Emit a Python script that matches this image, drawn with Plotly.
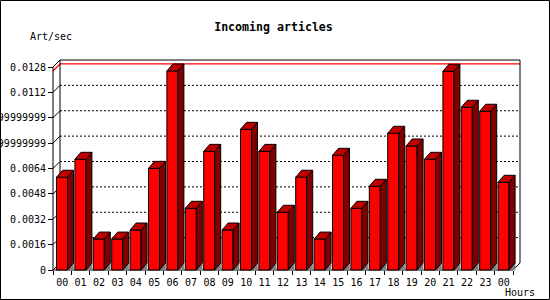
import plotly.graph_objects as go

# ---- data ----
hours = ["00", "01", "02", "03", "04", "05", "06", "07", "08", "09", "10", "11",
         "12", "13", "14", "15", "16", "17", "18", "19", "20", "21", "22", "23", "00"]
art_per_sec = [0.00585, 0.00698, 0.00195, 0.00195, 0.00252, 0.00641, 0.01255, 0.00389,
               0.00748, 0.00252, 0.00887, 0.00748, 0.00364, 0.00585, 0.00195, 0.00723,
               0.00389, 0.00528, 0.00862, 0.00782, 0.00698, 0.01253, 0.01026, 0.01001,
               0.00553]
y_tick_vals = [0, 0.0016, 0.0032, 0.0048, 0.0064, 0.008, 0.0096, 0.0112, 0.0128]
y_tick_text = ["0", "0.0016", "0.0032", "0.0048", "0.0064", "0.00799999999999999",
               "0.00959999999999999", "0.0112", "0.0128"]
title_text = "Incoming articles"
y_label = "Art/sec"
x_label = "Hours"

# ---- geometry ----
W, H = 550, 300
ML, MR, MT, MB = 50, 27, 57, 27
PW, PH = W - ML - MR, H - MT - MB
X0_PX = 53          # pixel of front-left axis
Y0_PX = 270         # pixel of front baseline
PX_CAT = 18.4
PX_UNIT = 203 / 0.0128
x_range = [-0.5 - (X0_PX - ML) / PX_CAT, -0.5 + (W - MR - X0_PX) / PX_CAT]
y_range = [-(H - MB - Y0_PX) / PX_UNIT, (Y0_PX - MT) / PX_UNIT]
FDX = 7 / PX_CAT
BDX = 6 / PX_CAT
DY = 7 / PX_UNIT
BAR_OFF = -0.5 + 3.5 / PX_CAT
BAR_W = 11 / PX_CAT
FONT = "DejaVu Sans Mono"

n = len(hours)
xs = list(range(n))
x_left = -0.5
x_right = n - 0.5
y_top = y_tick_vals[-1]
vmax = max(art_per_sec)

fig = go.Figure()

# floor shadows, sides and tops computed from values
tri_x, tri_y, side_x, side_y, top_x, top_y = [], [], [], [], [], []
for i, v in zip(xs, art_per_sec):
    fl = i + BAR_OFF
    fr = fl + BAR_W
    tri_x += [fr, fr + BDX, fr + BDX, fr, None]
    tri_y += [0, DY, 0, 0, None]
    side_x += [fr, fr + BDX, fr + BDX, fr, fr, None]
    side_y += [0, DY, v + DY, v, 0, None]
    top_x += [fl, fl + BDX, fr + BDX, fr, fl, None]
    top_y += [v, v + DY, v + DY, v, v, None]

fig.add_trace(go.Bar(x=xs, y=art_per_sec, width=BAR_W, offset=BAR_OFF,
                     marker=dict(color="#FF0000", line=dict(color="black", width=1)),
                     hoverinfo="skip"))
fig.add_trace(go.Scatter(x=tri_x, y=tri_y, mode="lines", fill="toself",
                         fillcolor="#808080", line=dict(color="#808080", width=0.5),
                         hoverinfo="skip"))
fig.add_trace(go.Scatter(x=side_x, y=side_y, mode="lines", fill="toself",
                         fillcolor="#800000", line=dict(color="black", width=1),
                         hoverinfo="skip"))
fig.add_trace(go.Scatter(x=top_x, y=top_y, mode="lines", fill="toself",
                         fillcolor="#C00000", line=dict(color="black", width=1),
                         hoverinfo="skip"))

shapes = []
blk = dict(color="black", width=1)
# dotted grid on back wall
for v in y_tick_vals[1:-1]:
    shapes.append(dict(type="line", xref="x", yref="y", layer="below",
                       x0=x_left + FDX, x1=x_right + FDX, y0=v + DY, y1=v + DY,
                       line=dict(color="black", width=1, dash="2px,2px")))
# diagonal tick connectors
for v in y_tick_vals:
    shapes.append(dict(type="line", xref="x", yref="y", layer="below",
                       x0=x_left, x1=x_left + FDX, y0=v, y1=v + DY, line=blk))
# max line
red = dict(color="#FF0000", width=1.2)
shapes.append(dict(type="line", xref="x", yref="y", layer="below",
                   x0=x_left + FDX, x1=x_right + FDX, y0=vmax + DY, y1=vmax + DY, line=red))
shapes.append(dict(type="line", xref="x", yref="y", layer="below",
                   x0=x_left, x1=x_left + FDX, y0=vmax, y1=vmax + DY, line=red))
# back wall outline
shapes.append(dict(type="path", xref="x", yref="y", layer="below",
                   path=f"M{x_left + FDX},{DY} L{x_left + FDX},{y_top + DY} "
                        f"L{x_right + FDX},{y_top + DY} L{x_right + FDX},{DY}",
                   line=blk))
# front axes
shapes.append(dict(type="line", xref="x", yref="y", layer="below",
                   x0=x_left, x1=x_left, y0=0, y1=y_top, line=blk))
shapes.append(dict(type="line", xref="x", yref="y", layer="below",
                   x0=x_left, x1=x_right, y0=0, y1=0, line=blk))
shapes.append(dict(type="line", xref="x", yref="y", layer="below",
                   x0=x_right, x1=x_right + FDX, y0=0, y1=DY, line=blk))
# outer border
def px_x(p):
    return (p - ML) / PW
def px_y(p):
    return (H - MB - p) / PH
shapes.append(dict(type="rect", xref="paper", yref="paper",
                   x0=px_x(0.5), x1=px_x(W - 0.5), y0=px_y(0.5), y1=px_y(H - 0.5),
                   line=blk, fillcolor="rgba(0,0,0,0)"))

annotations = [
    dict(text=y_label, xref="paper", yref="paper", x=px_x(50.5), y=px_y(36.5),
         showarrow=False, xanchor="center", yanchor="middle",
         font=dict(family=FONT, size=10, color="black")),
    dict(text=x_label, xref="paper", yref="paper", x=px_x(519.5), y=px_y(292),
         showarrow=False, xanchor="center", yanchor="middle",
         font=dict(family=FONT, size=10, color="black")),
]

fig.update_layout(
    width=W, height=H,
    margin=dict(l=ML, r=MR, t=MT, b=MB, pad=0),
    paper_bgcolor="white", plot_bgcolor="white",
    showlegend=False,
    title=dict(text="<b>" + title_text + "</b>", x=273.5 / W, y=1 - 26.5 / H,
               xref="container", yref="container", xanchor="center", yanchor="middle",
               font=dict(family=FONT, size=11.6, color="black")),
    xaxis=dict(range=x_range, anchor="free", position=px_y(Y0_PX),
               tickmode="array", tickvals=xs, ticktext=hours, ticks="",
               ticklabelstandoff=5,
               showgrid=False, zeroline=False, showline=False, automargin=False,
               tickfont=dict(family=FONT, size=10, color="black"),
               minor=dict(tickmode="array", tickvals=[i - 0.5 for i in range(n + 1)],
                          ticks="outside", ticklen=4, tickcolor="black", tickwidth=1,
                          showgrid=False)),
    yaxis=dict(range=y_range, anchor="free", position=px_x(X0_PX),
               tickmode="array", tickvals=y_tick_vals, ticktext=y_tick_text,
               ticks="outside", ticklen=5, tickcolor="black", tickwidth=1,
               showgrid=False, zeroline=False, showline=False, automargin=False,
               tickfont=dict(family=FONT, size=10, color="black")),
    shapes=shapes,
    annotations=annotations,
)

fig.write_html("out.html")
